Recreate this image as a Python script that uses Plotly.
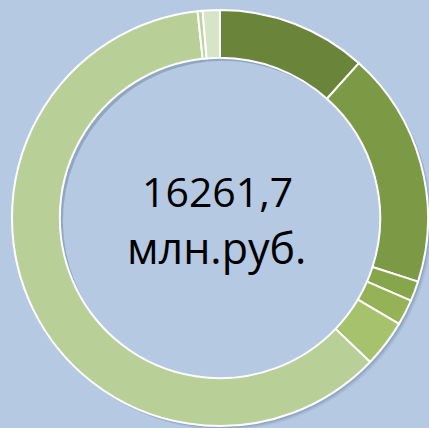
import plotly.graph_objects as go

# Budget structure, млн.руб.
categories = ["Статья 1", "Статья 2", "Статья 3", "Статья 4",
              "Статья 5", "Статья 6", "Статья 7", "Статья 8"]
values = [1892.7, 2976.8, 253.0, 325.2, 596.3, 9937.7, 63.2, 216.8]
total_label = ["16261,7", "млн.руб."]

colors = ["#6a843a", "#7c9a45", "#87a64b", "#95b356",
          "#a6c26c", "#b9cf98", "#bed3a0", "#d8e4c7"]
bg = "#b5c9e3"

W, H = 429, 428
cx, cy, r = 220, 218, 208
hole = 0.77
r_in = r * hole


def circle(x, y, rad, fill):
    return dict(type="circle", xref="paper", yref="paper", layer="below",
                x0=(x - rad) / W, x1=(x + rad) / W,
                y0=1 - (y + rad) / H, y1=1 - (y - rad) / H,
                fillcolor=fill, line=dict(width=0))


shapes = []
# soft drop shadow around the ring, offset down-right
for off, alpha in [(4, 0.05), (3, 0.07), (2, 0.10)]:
    shapes.append(circle(cx + off, cy + off, r, f"rgba(20,40,70,{alpha})"))
shapes.append(circle(cx + 3, cy + 3, r_in, bg))

fig = go.Figure()
fig.add_trace(go.Pie(
    labels=categories, values=values, hole=hole,
    domain=dict(x=[(cx - r) / W, (cx + r) / W],
                y=[1 - (cy + r) / H, 1 - (cy - r) / H]),
    sort=False, direction="clockwise", rotation=0,
    textinfo="none", showlegend=False,
    marker=dict(colors=colors, line=dict(color="white", width=2)),
))

fig.add_annotation(x=217 / W, y=1 - 191 / H, xref="paper", yref="paper",
                   text=total_label[0], showarrow=False,
                   font=dict(family="Open Sans", size=41, color="black"))
fig.add_annotation(x=216 / W, y=1 - 247 / H, xref="paper", yref="paper",
                   text=total_label[1], showarrow=False,
                   font=dict(family="Open Sans", size=43, color="black"))

fig.update_layout(
    width=W, height=H,
    margin=dict(l=0, r=0, t=0, b=0),
    paper_bgcolor=bg, plot_bgcolor=bg,
    shapes=shapes,
)

fig.write_html("out.html", config={"displayModeBar": False})
